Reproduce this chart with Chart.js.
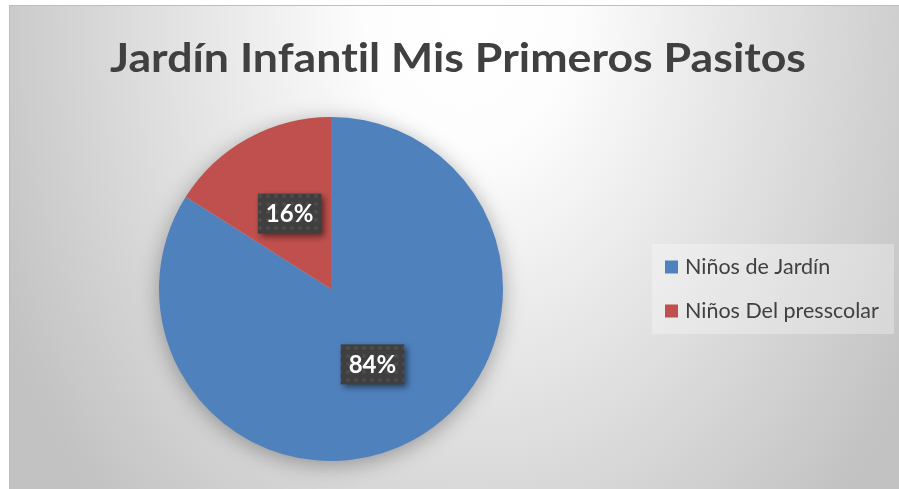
<!DOCTYPE html>
<html>
<head>
<meta charset="utf-8">
<script src="https://cdn.jsdelivr.net/npm/chart.js@4"></script>
<style>
  html, body { margin: 0; padding: 0; background: #ffffff; }
  #wrap { position: absolute; left: 0; top: 0; width: 899px; height: 489px; }
</style>
</head>
<body>
<div id="wrap"><canvas id="chart-pie"></canvas></div>
<script>
const chartTitle = "Jardín Infantil Mis Primeros Pasitos";
const categories = ["Niños de Jardín", "Niños Del presscolar"];
const values = [84, 16];
const colors = ["#4f81bd", "#c0504d"];

const FONT = "Lato, 'Open Sans', sans-serif";
const TEXT_COLOR = "#404040";

// patrón de puntos para las etiquetas
function dotPattern(ctx) {
  const c = document.createElement("canvas");
  c.width = 8; c.height = 8;
  const p = c.getContext("2d");
  p.fillStyle = "#3f3f3f";
  p.fillRect(0, 0, 8, 8);
  p.fillStyle = "rgba(255,255,255,0.07)";
  p.beginPath(); p.arc(4, 4, 2, 0, Math.PI * 2); p.fill();
  return ctx.createPattern(c, "repeat");
}

const fondo = {
  id: "fondo",
  beforeDraw(chart) {
    const ctx = chart.ctx;
    ctx.save();
    ctx.fillStyle = "#ffffff";
    ctx.fillRect(0, 0, chart.width, chart.height);
    ctx.beginPath();
    ctx.rect(9, 5, 890, 484);
    ctx.clip();
    ctx.translate(468, 8);
    ctx.scale(1, 1.35);
    const g = ctx.createRadialGradient(0, 0, 0, 0, 0, 520);
    g.addColorStop(0, "#ffffff");
    g.addColorStop(0.2, "#fdfdfd");
    g.addColorStop(1, "#c2c2c2");
    ctx.fillStyle = g;
    ctx.fillRect(-500, -10, 1000, 400);
    ctx.restore();
    ctx.save();
    ctx.strokeStyle = "#bdbdbd";
    ctx.lineWidth = 1;
    ctx.beginPath();
    ctx.moveTo(9.5, 489); ctx.lineTo(9.5, 5.5); ctx.lineTo(899, 5.5);
    ctx.stroke();
    ctx.restore();
  },
  beforeDatasetsDraw(chart) {
    const arc = chart.getDatasetMeta(0).data[0];
    if (!arc) return;
    const ctx = chart.ctx;
    ctx.save();
    ctx.shadowColor = "rgba(0,0,0,0.35)";
    ctx.shadowBlur = 22;
    ctx.shadowOffsetY = 4;
    ctx.fillStyle = "#c8c8c8";
    ctx.beginPath();
    ctx.arc(arc.x, arc.y, arc.outerRadius - 1, 0, Math.PI * 2);
    ctx.fill();
    ctx.restore();
  },
  afterDatasetsDraw(chart) {
    const ctx = chart.ctx;
    const total = values.reduce((a, b) => a + b, 0);
    const pat = dotPattern(ctx);
    chart.getDatasetMeta(0).data.forEach((arc, i) => {
      const pos = arc.tooltipPosition();
      const txt = Math.round(values[i] / total * 100) + "%";
      ctx.save();
      ctx.font = "bold 24px " + FONT;
      const w = ctx.measureText(txt).width + 16;
      const h = 40;
      ctx.shadowColor = "rgba(0,0,0,0.5)";
      ctx.shadowBlur = 6;
      ctx.shadowOffsetX = 3;
      ctx.shadowOffsetY = 3;
      ctx.fillStyle = pat;
      ctx.fillRect(pos.x - w / 2, pos.y - h / 2, w, h);
      ctx.shadowColor = "transparent";
      ctx.fillStyle = "#ffffff";
      ctx.textAlign = "center";
      ctx.textBaseline = "middle";
      ctx.fillText(txt, pos.x, pos.y + 1);
      ctx.restore();
    });
  },
  afterDraw(chart) {
    const ctx = chart.ctx;
    // título
    ctx.save();
    ctx.fillStyle = TEXT_COLOR;
    ctx.letterSpacing = "0.01px";
    ctx.font = "bold 41px " + FONT;
    const sx = 696 / ctx.measureText(chartTitle).width;
    ctx.translate(458, 72);
    ctx.scale(sx, 1);
    ctx.textAlign = "center";
    ctx.textBaseline = "alphabetic";
    ctx.fillText(chartTitle, 0, 0);
    ctx.restore();

    // leyenda
    ctx.save();
    ctx.fillStyle = "rgba(255,255,255,0.3)";
    ctx.fillRect(652, 244, 242, 90);
    ctx.font = "21.5px " + FONT;
    ctx.textBaseline = "middle";
    categories.forEach((name, i) => {
      const y = 267 + i * 44;
      ctx.fillStyle = colors[i];
      ctx.fillRect(665, y - 6.5, 13, 13);
      ctx.fillStyle = TEXT_COLOR;
      ctx.fillText(name, 685, y);
    });
    ctx.restore();
  }
};

new Chart(document.getElementById("chart-pie"), {
  type: "pie",
  data: {
    labels: categories,
    datasets: [{
      data: values,
      backgroundColor: colors,
      borderWidth: 0
    }]
  },
  options: {
    responsive: true,
    maintainAspectRatio: false,
    animation: false,
    layout: { padding: { top: 117, bottom: 28, left: 159, right: 396 } },
    plugins: {
      legend: { display: false },
      title: { display: false },
      tooltip: { enabled: false }
    }
  },
  plugins: [fondo]
});
</script>
</body>
</html>
